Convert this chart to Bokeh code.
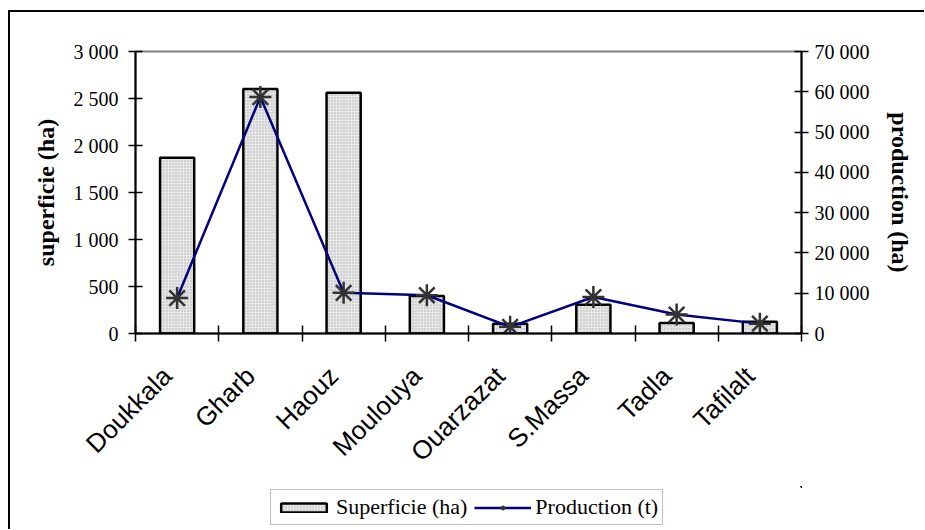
from bokeh.plotting import figure
from bokeh.layouts import column
from bokeh.models import (Range1d, LinearAxis, FixedTicker, Legend, LegendItem, ColumnDataSource)
from bokeh.embed import file_html
from bokeh.resources import INLINE
import math

# ---- data ----
regions = ["Doukkala", "Gharb", "Haouz", "Moulouya", "Ouarzazat", "S.Massa", "Tadla", "Tafilalt"]
superficie = [1870, 2600, 2560, 400, 105, 305, 112, 125]
production = [8800, 58700, 10100, 9500, 1650, 9050, 4700, 2450]

sup_ticks = [0, 500, 1000, 1500, 2000, 2500, 3000]
sup_labels = ["0", "500", "1 000", "1 500", "2 000", "2 500", "3 000"]
prod_ticks = [0, 10000, 20000, 30000, 40000, 50000, 60000, 70000]
prod_labels = ["0", "10 000", "20 000", "30 000", "40 000", "50 000", "60 000", "70 000"]

left_title = "superficie (ha)"
right_title = "production (ha)"
legend_sup = "Superficie (ha)"
legend_prod = "Production (t)"

n = len(regions)
pos = [i + 0.5 for i in range(n)]          # category centres on a 0..n axis
label_pos = [c - 0.12 for c in pos]        # label anchor slightly left of centre
bounds = list(range(n + 1))                # category boundaries (tick marks)
src = ColumnDataSource(dict(x=pos, region=regions, sup=superficie, prod=production))

SERIF = "Liberation Serif"
SANS = "Liberation Sans"

BAR_STYLE = dict(fill_color="#e6e6e6", hatch_pattern="dot", hatch_color="#b0b0b0",
                 hatch_scale=3, hatch_weight=1, line_color="black", line_width=2.5)
LINE_STYLE = dict(line_color="#000080", line_width=2.5)
MARK_STYLE = dict(marker="asterisk", size=22, line_color="#333333", line_width=2.5)

W = 924
H_MAIN = 486
H_LEG = 43

p = figure(x_range=Range1d(0, n), y_range=Range1d(sup_ticks[0], sup_ticks[-1]),
           width=W, height=H_MAIN, output_backend="svg", toolbar_location=None,
           min_border_left=135, min_border_right=123,
           min_border_top=51, min_border_bottom=H_MAIN - 333)
p.xgrid.visible = False
p.ygrid.visible = False
p.outline_line_color = "#808080"
p.outline_line_width = 2
p.background_fill_color = "white"
p.border_fill_alpha = 0

p.extra_y_ranges = {"prod": Range1d(prod_ticks[0], prod_ticks[-1])}

# bottom axis: labels near centres, ticks at boundaries
xa = p.xaxis[0]
xa.ticker = FixedTicker(ticks=label_pos, minor_ticks=bounds)
xa.major_label_overrides = dict(zip(label_pos, regions))
xa.axis_line_color = "black"
xa.axis_line_width = 2
xa.major_tick_line_color = None
xa.major_tick_in = 0
xa.major_tick_out = 0
xa.minor_tick_line_color = "black"
xa.minor_tick_line_width = 1.5
xa.minor_tick_in = 8
xa.minor_tick_out = 8
xa.major_label_orientation = math.pi / 4
xa.major_label_text_font = SANS
xa.major_label_text_font_size = "26px"
xa.major_label_text_color = "black"
xa.major_label_standoff = 30

# left axis
ya = p.yaxis[0]
ya.ticker = FixedTicker(ticks=sup_ticks)
ya.major_label_overrides = dict(zip(sup_ticks, sup_labels))
ya.axis_label = left_title
ya.axis_label_text_font = SERIF
ya.axis_label_text_font_style = "bold"
ya.axis_label_text_font_size = "24px"
ya.axis_label_text_color = "black"
ya.axis_label_standoff = 12
ya.major_label_text_font = SERIF
ya.major_label_text_font_size = "20px"
ya.major_label_text_color = "black"
ya.major_label_standoff = 10
ya.axis_line_color = "black"
ya.axis_line_width = 2
ya.major_tick_line_color = "black"
ya.major_tick_line_width = 1.5
ya.major_tick_in = 7
ya.major_tick_out = 7
ya.minor_tick_line_color = None

# right axis
ra = LinearAxis(y_range_name="prod", ticker=FixedTicker(ticks=prod_ticks))
ra.major_label_overrides = dict(zip(prod_ticks, prod_labels))
ra.axis_label = right_title
ra.axis_label_text_font = SERIF
ra.axis_label_text_font_style = "bold"
ra.axis_label_text_font_size = "24px"
ra.axis_label_text_color = "black"
ra.axis_label_standoff = 14
ra.major_label_text_font = SERIF
ra.major_label_text_font_size = "20px"
ra.major_label_text_color = "black"
ra.major_label_standoff = 6
ra.axis_line_color = "black"
ra.axis_line_width = 2
ra.major_tick_line_color = "black"
ra.major_tick_line_width = 1.5
ra.major_tick_in = 7
ra.major_tick_out = 7
ra.minor_tick_line_color = None
p.add_layout(ra, "right")

p.vbar(x="x", top="sup", width=0.41, source=src, **BAR_STYLE)
p.line(x="x", y="prod", source=src, y_range_name="prod", **LINE_STYLE)
p.scatter(x="x", y="prod", source=src, y_range_name="prod", **MARK_STYLE)

# ---- legend strip below the chart: same data and styles, kept far out of its view ----
lf = figure(x_range=Range1d(-10000, -10000 + n), y_range=Range1d(-100001, -100000),
            width=W, height=H_LEG, output_backend="svg", toolbar_location=None,
            x_axis_location=None, y_axis_location=None,
            min_border=0, min_border_left=0, min_border_right=0,
            min_border_top=0, min_border_bottom=0)
lf.xgrid.visible = False
lf.ygrid.visible = False
lf.outline_line_color = None
lf.background_fill_alpha = 0
lf.border_fill_alpha = 0
lb = lf.vbar(x="x", top="sup", width=0.41, source=src, **BAR_STYLE)
ll = lf.line(x="x", y="prod", source=src, **LINE_STYLE)
lm = lf.scatter(x="x", y="prod", source=src, **MARK_STYLE)

legend = Legend(items=[LegendItem(label=legend_sup, renderers=[lb]),
                       LegendItem(label=legend_prod, renderers=[ll, lm])],
                location=(135, 4), orientation="horizontal")
legend.border_line_color = "#808080"
legend.border_line_width = 1.5
legend.background_fill_color = "white"
legend.background_fill_alpha = 1
legend.padding = 4
legend.spacing = 7
legend.margin = 0
legend.label_standoff = 4
legend.glyph_width = 57
legend.glyph_height = 11
legend.label_text_font = SERIF
legend.label_text_font_size = "22px"
legend.label_text_color = "black"
lf.add_layout(legend)

page = column(p, lf, spacing=0)
page.styles = {"background": "linear-gradient(#000,#000) 8px 10px / 2px 100% no-repeat, "
                             "linear-gradient(#000,#000) 8px 10px / 100% 2px no-repeat, #ffffff"}

open("out.html", "w").write(file_html(page, INLINE))
